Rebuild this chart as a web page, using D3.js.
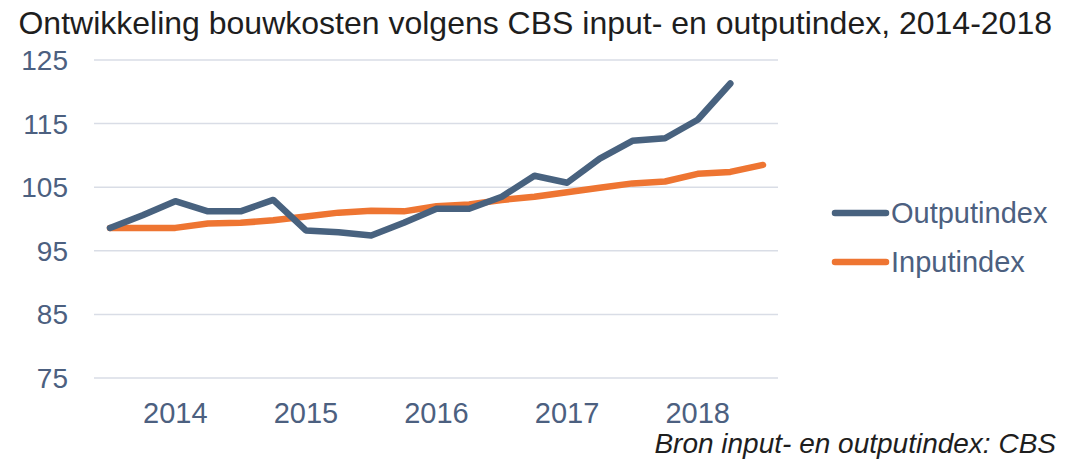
<!DOCTYPE html>
<html>
<head>
<meta charset="utf-8">
<script src="https://cdn.jsdelivr.net/npm/d3@7"></script>
<style>
	body { margin: 0; background: #fff; }
	svg { display: block; font-family: "Liberation Sans", Arial, sans-serif; }
</style>
</head>
<body>
<svg id="chart" width="1081" height="462"></svg>
<script>
// quarters 2014 Q1 .. 2019 Q1
var quarters = ["2014Q1","2014Q2","2014Q3","2014Q4","2015Q1","2015Q2","2015Q3","2015Q4",
	"2016Q1","2016Q2","2016Q3","2016Q4","2017Q1","2017Q2","2017Q3","2017Q4",
	"2018Q1","2018Q2","2018Q3","2018Q4","2019Q1"];

var outputIndex = [98.6, 100.6, 102.8, 101.2, 101.2, 103.0, 98.2, 97.9, 97.4, 99.4,
	101.6, 101.6, 103.5, 106.8, 105.7, 109.5, 112.3, 112.7, 115.6, 121.3];

var inputIndex = [98.6, 98.6, 98.6, 99.3, 99.4, 99.8, 100.4, 101.0, 101.3, 101.2,
	102.0, 102.3, 103.0, 103.5, 104.2, 104.9, 105.6, 105.9, 107.1, 107.4, 108.5];

var yTicks = [75, 85, 95, 105, 115, 125];
var yearLabels = ["2014", "2015", "2016", "2017", "2018"];
var yearPos = ["2014Q3", "2015Q3", "2016Q3", "2017Q3", "2018Q3"];

var seriesNames = ["Outputindex", "Inputindex"];
var seriesColors = ["#48627f", "#ee7532"];

var TEXT_COLOR = "#4c6080";
var GRID_COLOR = "#d9dde6";

var svg = d3.select("#chart");

var x = d3.scalePoint()
	.domain(quarters)
	.range([110, 763]);

var y = d3.scaleLinear()
	.domain([75, 125])
	.range([378, 60]);

// gridlines
svg.append("g").selectAll("line")
	.data(yTicks)
	.enter().append("line")
		.attr("x1", 94)
		.attr("x2", 778)
		.attr("y1", function(d) { return y(d); })
		.attr("y2", function(d) { return y(d); })
		.attr("stroke", GRID_COLOR)
		.attr("stroke-width", 1.5);

// y labels
svg.append("g").selectAll("text")
	.data(yTicks)
	.enter().append("text")
		.attr("x", 68)
		.attr("y", function(d) { return y(d) + 10; })
		.attr("text-anchor", "end")
		.attr("font-size", 28)
		.attr("fill", TEXT_COLOR)
		.text(function(d) { return d; });

// x labels
svg.append("g").selectAll("text")
	.data(yearLabels)
	.enter().append("text")
		.attr("x", function(d, i) { return x(yearPos[i]); })
		.attr("y", 423)
		.attr("text-anchor", "middle")
		.attr("font-size", 29)
		.attr("fill", TEXT_COLOR)
		.text(function(d) { return d; });

var line = d3.line()
	.x(function(d, i) { return x(quarters[i]); })
	.y(function(d) { return y(d); });

var allSeries = [outputIndex, inputIndex];

// draw input first so output sits on top where they overlap at the start
for (var s = allSeries.length - 1; s >= 0; s--) {
	svg.append("path")
		.datum(allSeries[s])
		.attr("fill", "none")
		.attr("stroke", seriesColors[s])
		.attr("stroke-width", 6.5)
		.attr("stroke-linejoin", "round")
		.attr("stroke-linecap", "round")
		.attr("d", line);
}

// legend
var legY = [213, 262];
for (var i = 0; i < seriesNames.length; i++) {
	var lg = svg.append("g").attr("transform", "translate(0," + legY[i] + ")");
	lg.append("line")
		.attr("x1", 835)
		.attr("x2", 886)
		.attr("stroke", seriesColors[i])
		.attr("stroke-width", 6.5)
		.attr("stroke-linecap", "round");
	lg.append("text")
		.attr("x", 891)
		.attr("y", 10)
		.attr("font-size", 29)
		.attr("fill", TEXT_COLOR)
		.text(seriesNames[i]);
}

// title
svg.append("text")
	.attr("x", 1052)
	.attr("y", 34)
	.attr("text-anchor", "end")
	.attr("font-size", 32)
	.attr("fill", "#1e1e1e")
	.text("Ontwikkeling bouwkosten volgens CBS input- en outputindex, 2014-2018");

// source note
svg.append("text")
	.attr("x", 1056)
	.attr("y", 453)
	.attr("text-anchor", "end")
	.attr("font-size", 28)
	.attr("font-style", "italic")
	.attr("fill", "#1e1e1e")
	.text("Bron input- en outputindex: CBS");
</script>
</body>
</html>
